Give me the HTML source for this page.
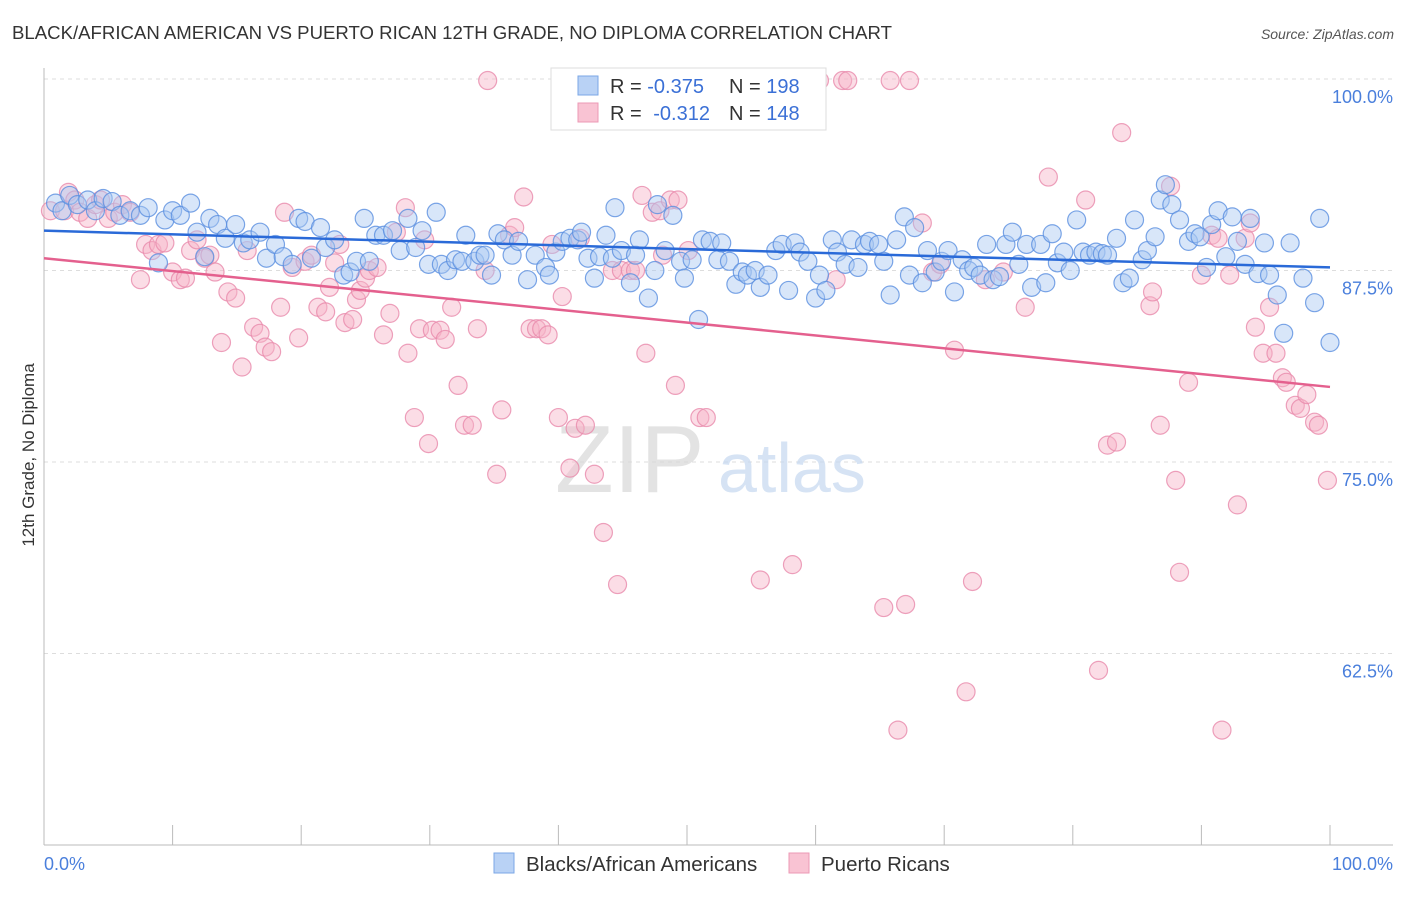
<!DOCTYPE html>
<html><head><meta charset="utf-8">
<style>
body{margin:0;background:#fff;font-family:"Liberation Sans",sans-serif;}
svg text{font-family:"Liberation Sans",sans-serif;}
</style></head>
<body>
<svg id="chart" width="1406" height="892" viewBox="0 0 1406 892" xmlns="http://www.w3.org/2000/svg">
<text x="12" y="39" font-size="18.6" fill="#333">BLACK/AFRICAN AMERICAN VS PUERTO RICAN 12TH GRADE, NO DIPLOMA CORRELATION CHART</text>
<text x="1394" y="39" font-size="14" fill="#555" font-style="italic" text-anchor="end">Source: ZipAtlas.com</text>
<text transform="translate(34,455) rotate(-90)" font-size="17" fill="#333" text-anchor="middle">12th Grade, No Diploma</text>
<g id="grid"></g>
<g id="axes"></g>
<text x="555" y="492" font-size="96" fill="#d8d8d8" font-family="Liberation Serif" opacity="0.7">ZIP</text>
<text x="718" y="492" font-size="70" fill="#c5d8f0" opacity="0.7">atlas</text>
<g id="pink"></g>
<g id="blue"></g>
<g id="trends"></g>
<g>
<rect x="551" y="68" width="275" height="62" fill="#fff" stroke="#ddd"/>
<rect x="578" y="76" width="20" height="19" fill="#b9d2f5" stroke="#7ba7e6"/>
<rect x="578" y="103" width="20" height="19" fill="#f9c3d3" stroke="#ec9ab6"/>
<text x="610" y="93" font-size="20" fill="#333">R = <tspan fill="#3b70d6">-0.375</tspan></text>
<text x="729" y="93" font-size="20" fill="#333">N = <tspan fill="#3b70d6">198</tspan></text>
<text x="610" y="120" font-size="20" fill="#333">R = <tspan fill="#3b70d6" dx="6">-0.312</tspan></text>
<text x="729" y="120" font-size="20" fill="#333">N = <tspan fill="#3b70d6">148</tspan></text>
</g>
<g>
<rect x="494" y="853" width="20" height="20" fill="#b9d2f5" stroke="#7ba7e6"/>
<text x="526" y="871" font-size="20.5" fill="#333">Blacks/African Americans</text>
<rect x="789" y="853" width="20" height="20" fill="#f9c3d3" stroke="#ec9ab6"/>
<text x="821" y="871" font-size="20.5" fill="#333">Puerto Ricans</text>
</g>
</svg>
<script>
const yTicks=[100,87.5,75,62.5];
const yTickLabels=["100.0%","87.5%","75.0%","62.5%"];
const xTickLabels=["0.0%","100.0%"];
const blueX=[0.9,1.4,2.0,2.6,3.4,4.0,4.6,5.3,5.9,6.7,7.5,8.1,8.9,9.4,10.0,10.6,11.4,11.9,12.5,12.9,13.5,14.1,14.9,15.5,16.0,16.8,17.3,18.0,18.6,19.3,19.8,20.3,20.8,21.5,21.9,22.6,23.3,23.8,24.3,24.9,25.3,25.8,26.4,27.1,27.7,28.3,28.9,29.4,29.9,30.5,30.9,31.4,32.0,32.5,32.8,33.5,33.9,34.3,34.8,35.3,35.8,36.4,36.9,37.6,38.2,39.0,39.3,39.8,40.3,40.9,41.5,41.8,42.3,42.8,43.2,43.7,44.2,44.4,44.9,45.6,46.0,46.3,47.0,47.5,47.7,48.3,48.9,49.5,49.8,50.4,50.9,51.2,51.8,52.4,52.7,53.3,53.8,54.3,54.7,55.3,55.7,56.3,56.9,57.4,57.9,58.4,58.8,59.4,60.0,60.3,60.8,61.3,61.7,62.3,62.8,63.3,63.8,64.2,64.9,65.3,65.8,66.3,66.9,67.3,67.7,68.3,68.7,69.3,69.8,70.3,70.8,71.4,71.9,72.3,72.8,73.3,73.8,74.3,74.8,75.3,75.8,76.4,76.8,77.5,77.9,78.4,78.8,79.3,79.8,80.3,80.8,81.3,81.8,82.3,82.7,83.4,83.9,84.4,84.8,85.4,85.8,86.4,86.8,87.2,87.7,88.3,89.0,89.5,89.9,90.4,90.8,91.3,91.9,92.4,92.8,93.4,93.8,94.4,94.9,95.3,95.9,96.4,96.9,97.9,98.8,99.2,100.0];
const blueY=[91.9,91.4,92.4,91.8,92.1,91.4,92.2,92.0,91.1,91.4,91.1,91.6,88.0,90.8,91.4,91.1,91.9,90.0,88.4,90.9,90.5,89.6,90.5,89.3,89.5,90.0,88.3,89.2,88.4,87.9,90.9,90.7,88.3,90.3,89.0,89.5,87.2,87.4,88.1,90.9,88.1,89.8,89.8,90.1,88.8,90.9,89.0,90.1,87.9,91.3,87.9,87.5,88.2,88.1,89.8,88.1,88.5,88.5,87.2,89.9,89.5,88.5,89.4,86.9,88.5,87.7,87.2,88.7,89.4,89.6,89.5,90.0,88.3,87.0,88.4,89.8,88.3,91.6,88.8,86.7,88.5,89.5,85.7,87.5,91.8,88.8,91.1,88.1,87.0,88.2,84.3,89.5,89.4,88.2,89.3,88.1,86.6,87.4,87.2,87.5,86.4,87.2,88.8,89.2,86.2,89.3,88.7,88.1,85.7,87.2,86.2,89.5,88.7,87.9,89.5,87.7,89.2,89.4,89.2,88.1,85.9,89.5,91.0,87.2,90.3,86.7,88.8,87.4,88.1,88.8,86.1,88.2,87.5,87.7,87.2,89.2,86.9,87.1,89.2,90.0,87.9,89.2,86.4,89.2,86.7,89.9,88.0,88.7,87.5,90.8,88.7,88.5,88.7,88.6,88.5,89.6,86.7,87.0,90.8,88.2,88.8,89.7,92.1,93.1,91.8,90.8,89.4,89.9,89.7,87.7,90.5,91.4,88.4,91.0,89.4,87.9,90.9,87.3,89.3,87.2,85.9,83.4,89.3,87.0,85.4,90.9,82.8];
const pinkX=[0.5,1.6,1.9,2.4,2.8,3.4,4.0,4.4,5.0,5.5,6.1,6.7,7.5,7.9,8.4,8.9,9.4,10.0,10.6,11.0,11.4,11.9,12.5,12.9,13.3,13.8,14.3,14.9,15.4,15.8,16.3,16.8,17.2,17.7,18.4,18.7,19.3,19.8,20.3,20.8,21.3,21.9,22.2,22.6,23.0,23.4,24.0,24.3,24.6,25.0,25.3,25.9,26.4,26.9,27.4,28.1,28.3,28.8,29.2,29.6,29.9,30.2,30.8,31.2,31.7,32.2,32.7,33.3,33.7,34.3,35.2,35.6,36.2,36.6,37.3,37.8,38.3,38.7,39.2,39.5,40.0,40.3,40.9,41.3,41.7,42.1,42.8,43.5,44.2,44.6,44.9,45.6,46.0,46.5,46.8,47.3,47.9,48.1,48.7,49.1,49.3,50.1,51.0,51.5,55.7,58.2,61.6,62.1,62.5,65.3,65.8,66.4,67.0,67.3,68.3,69.1,69.7,70.8,71.7,72.2,73.2,74.6,76.3,78.1,81.0,82.0,82.7,83.4,83.8,86.0,86.2,86.8,87.6,88.0,88.3,89.0,90.0,90.8,91.3,91.6,92.2,92.8,93.4,93.8,94.2,94.8,95.3,95.8,96.3,96.6,97.3,97.7,98.2,98.8,99.1,99.8,34.5,60.3];
const pinkY=[91.4,91.4,92.6,92.1,91.3,90.9,91.8,92.1,90.9,91.3,91.8,91.3,86.9,89.2,88.8,89.2,89.3,87.4,86.9,87.0,88.8,89.5,88.3,88.5,87.4,82.8,86.1,85.7,81.2,88.8,83.8,83.4,82.5,82.2,85.1,91.3,87.7,83.1,88.1,88.5,85.1,84.8,86.4,88.0,89.2,84.1,84.3,85.6,86.2,87.0,87.5,87.7,83.3,84.7,90.0,91.6,82.1,77.9,83.7,89.5,76.2,83.6,83.6,83.0,85.1,80.0,77.4,77.4,83.7,87.5,74.2,78.4,89.8,90.3,92.3,83.7,83.7,83.7,83.3,89.2,77.9,85.8,74.6,77.2,89.6,77.4,74.2,70.4,87.5,67.0,87.5,87.5,87.5,92.4,82.1,91.3,91.4,88.5,92.1,80.0,92.1,88.8,77.9,77.9,67.3,68.3,86.9,99.9,99.9,65.5,99.9,57.5,65.7,99.9,90.6,87.4,87.9,82.3,60.0,67.2,86.9,87.4,85.1,93.6,92.1,61.4,76.1,76.3,96.5,85.2,86.1,77.4,93.0,73.8,67.8,80.2,87.2,89.8,89.6,57.5,87.2,72.2,89.6,90.6,83.8,82.1,85.1,82.1,80.5,80.2,78.7,78.5,79.4,77.6,77.4,73.8,99.9,99.9];
const blueTrend=[90.1,87.7];
const pinkTrend=[88.3,79.9];

const NS="http://www.w3.org/2000/svg";
function xs(v){return 44+v*12.86;}
function ys(v){return 79+(100-v)*15.32;}
function mk(tag,attrs,parent){const e=document.createElementNS(NS,tag);for(const k in attrs)e.setAttribute(k,attrs[k]);parent.appendChild(e);return e;}
const grid=document.getElementById('grid'),axes=document.getElementById('axes');
yTicks.forEach((t,i)=>{
  const l=mk('line',{x1:44,x2:1393,y1:ys(t),y2:ys(t),stroke:'#ddd','stroke-dasharray':'4,4'},grid);
  
  
  const tx=mk('text',{x:1393,y:ys(t)+24,'font-size':18,fill:'#4a7fdc','text-anchor':'end'},axes);
  tx.textContent=yTickLabels[i];
  
  
});
const ya=mk('line',{x1:44,x2:44,y1:68,y2:845,stroke:'#bbb'},axes);


const xa=mk('line',{x1:44,x2:1393,y1:845,y2:845,stroke:'#bbb'},axes);


for(let i=0;i<=10;i++){
  const t=mk('line',{x1:xs(i*10),x2:xs(i*10),y1:825,y2:845,stroke:'#bbb'},axes);
  
  
}
[[0,'start'],[100,'end']].forEach((p,i)=>{
  const tx=mk('text',{x:i?1393:44,y:870,'font-size':18,fill:'#4a7fdc','text-anchor':p[1]},axes);
  tx.textContent=xTickLabels[i];
  
  
});
function pts(gid,X,Y,fill,stroke,name){
  const g=document.getElementById(gid);
  X.forEach((x,i)=>{
    const c=mk('circle',{cx:xs(x),cy:ys(Y[i]),r:9,fill:fill,'fill-opacity':0.45,stroke:stroke,'stroke-width':1.2,'stroke-opacity':0.8},g);
    
    
  });
}
pts('pink',pinkX,pinkY,'#f6b3c8','#e88aab','puerto-rican-point');
pts('blue',blueX,blueY,'#a9c8f2','#5a8fe0','black-point');
const tr=document.getElementById('trends');
const bl=mk('line',{x1:xs(0),y1:ys(blueTrend[0]),x2:xs(100),y2:ys(blueTrend[1]),stroke:'#2a6ad8','stroke-width':2.5},tr);


const pl=mk('line',{x1:xs(0),y1:ys(pinkTrend[0]),x2:xs(100),y2:ys(pinkTrend[1]),stroke:'#e4608e','stroke-width':2.5},tr);


</script>
</body></html>
